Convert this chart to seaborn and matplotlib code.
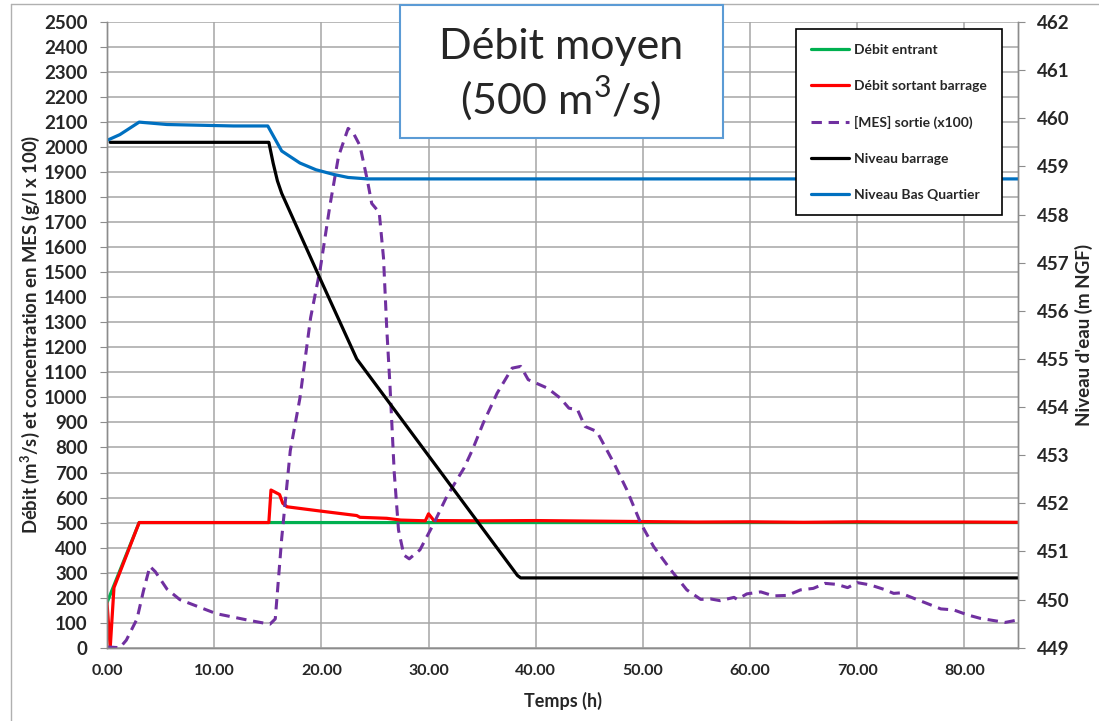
import matplotlib
matplotlib.use("Agg")
import matplotlib.pyplot as plt
import matplotlib.ticker as mticker
from matplotlib.lines import Line2D
from matplotlib.patches import Rectangle
import seaborn as sns

# Débit entrant (m3/s)
t_entrant = [0, 3.0, 85]
q_entrant = [180, 500, 500]

# Débit sortant barrage (m3/s)
t_sortant = [0, 0.3, 0.65, 3.0, 15.1, 15.3, 16.1, 16.4, 16.8, 19.9, 23.3, 23.6, 26.1, 27.4,
             29.7, 30.0, 30.5, 35, 40, 45, 50, 55, 60, 65, 70, 75, 80, 85]
q_sortant = [180, 0, 240, 500, 500, 630, 612, 577, 563, 546, 528, 521, 517, 510,
             507, 535, 508, 507, 508, 506, 504, 502, 503, 501, 503, 502, 502, 501]

# [MES] sortie (x100)
t_mes = [0, 1.2, 1.8, 2.8, 3.4, 4.0, 4.5, 5.6, 6.8, 10.2, 13.4, 15.2, 15.7, 16.3, 17.1,
         18.0, 19.0, 19.9, 20.8, 21.6, 22.5, 23.0, 23.6, 24.3, 24.7, 25.4, 25.8, 26.1,
         26.4, 26.8, 27.2, 27.7, 28.2, 29.2, 30.5, 31.7, 33.3, 34.1, 35.1, 36.4, 37.8,
         38.6, 39.3, 41.1, 42.3, 43.1, 43.9, 44.6, 45.7, 47.3, 48.5, 49.8, 51.0, 52.6,
         54.1, 55.4, 56.3, 57.2, 58.5, 58.8, 59.7, 61.0, 62.2, 63.5, 64.7, 65.9, 67.0,
         68.1, 69.1, 70.0, 71.2, 72.5, 73.4, 74.0, 75.3, 76.5, 77.8, 79.0, 80.3, 81.5,
         82.8, 83.8, 85.0]
mes = [3, 0, 30, 115, 227, 325, 304, 234, 192, 136, 108, 94, 115, 437, 787,
       997, 1319, 1515, 1767, 1963, 2075, 2055, 2006, 1866, 1775, 1739, 1557, 1277,
       1050, 700, 470, 370, 355, 391, 497, 604, 717, 791, 897, 1017, 1117,
       1124, 1071, 1037, 997, 957, 951, 884, 864, 737, 631, 497, 404, 311,
       231, 193, 195, 188, 201, 193, 215, 223, 207, 209, 231, 237, 257,
       253, 240, 260, 251, 233, 217, 219, 197, 177, 155, 151, 131, 117,
       108, 101, 111]

# Niveau barrage (m NGF)
t_barrage = [0.3, 15.1, 15.5, 15.9, 16.3, 19.9, 23.3, 38.3, 38.6, 85]
niv_barrage = [459.5, 459.5, 459.07, 458.7, 458.44, 456.66, 455.0, 450.5, 450.45, 450.45]

# Niveau Bas Quartier (m NGF)
t_bas_quartier = [0, 1.2, 3.0, 5.6, 11.8, 15.0, 15.6, 16.3, 18.0, 19.5, 21.2, 22.5, 24.3, 85]
niv_bas_quartier = [459.54, 459.66, 459.92, 459.87, 459.84, 459.84, 459.6, 459.32, 459.07,
                    458.93, 458.83, 458.77, 458.74, 458.74]

GREEN = "#00b050"
RED = "#ff0000"
PURPLE = "#7030a0"
BLUE = "#0070c0"
GRID = "#a6a6a6"
AXIS = "#8c8c8c"

sns.set_style("white")
plt.rcParams['font.family'] = ['Lato', 'DejaVu Sans']
plt.rcParams['mathtext.fontset'] = 'custom'
plt.rcParams['mathtext.rm'] = 'Lato'
plt.rcParams['mathtext.bf'] = 'Lato:bold'

fig = plt.figure(figsize=(10.99, 7.21), dpi=100)
ax = fig.add_axes([107 / 1099, 73.3 / 721, 911 / 1099, 625.7 / 721])
ax2 = ax.twinx()

sns.lineplot(x=t_entrant, y=q_entrant, ax=ax, color=GREEN, linewidth=2.3, label="Débit entrant")
sns.lineplot(x=t_sortant, y=q_sortant, ax=ax, color=RED, linewidth=2.3, label="Débit sortant barrage")
sns.lineplot(x=t_mes, y=mes, ax=ax, color=PURPLE, linewidth=2.2, linestyle=(0, (3.4, 2.2)),
             label="[MES] sortie (x100)")
sns.lineplot(x=t_barrage, y=niv_barrage, ax=ax2, color="black", linewidth=2.3, label="Niveau barrage")
sns.lineplot(x=t_bas_quartier, y=niv_bas_quartier, ax=ax2, color=BLUE, linewidth=2.3,
             label="Niveau Bas Quartier")

ax.set_xlim(0, 85)
ax.set_ylim(0, 2500)
ax2.set_ylim(449, 462)
ax.set_yticks(range(0, 2600, 100))
ax2.set_yticks(range(449, 463))
ax.xaxis.set_major_locator(mticker.MultipleLocator(10))
ax.xaxis.set_minor_locator(mticker.MultipleLocator(2))
ax.xaxis.set_major_formatter(mticker.FormatStrFormatter("%.2f"))

ax.grid(True, which="major", color=GRID, linewidth=1.1)
ax.set_axisbelow(True)

for a in (ax, ax2):
    for s in a.spines.values():
        s.set_color(AXIS)
        s.set_linewidth(1.0)
    a.spines["top"].set_visible(False)

ax.tick_params(axis="y", direction="out", length=5, color=AXIS, pad=9, labelsize=13.5)
ax.tick_params(axis="x", which="both", direction="out", length=5, color=AXIS, pad=7, labelsize=11.5)
ax2.tick_params(axis="y", direction="out", length=5, color=AXIS, pad=9, labelsize=13.5)
for lab in ax.get_xticklabels() + ax.get_yticklabels() + ax2.get_yticklabels():
    lab.set_fontweight("bold")

ax.set_xlabel("Temps (h)", fontsize=13, fontweight="bold")
ax.set_ylabel(r"Débit (m$\mathbf{^3}$/s) et concentration en MES (g/l x 100)", fontsize=13.3,
              fontweight="bold")
ax2.set_ylabel("Niveau d'eau (m NGF)", fontsize=13.5, fontweight="bold")
ax.xaxis.set_label_coords(0.5, -0.07)
ax.yaxis.set_label_coords(-0.071, 0.5)
ax2.yaxis.set_label_coords(1.062, 0.5)

h1, l1 = ax.get_legend_handles_labels()
h2, l2 = ax2.get_legend_handles_labels()
ax.get_legend().remove()
ax2.get_legend().remove()
leg = fig.legend(h1 + h2, l1 + l2, loc="upper left", bbox_to_anchor=(796 / 1099, 1 - 29 / 721),
                 frameon=True, fancybox=False, edgecolor="black", framealpha=1,
                 prop={"weight": "bold", "size": 10}, labelspacing=1.73, handlelength=2.8,
                 handletextpad=0.35, borderpad=1.05, borderaxespad=0)
leg.get_frame().set_linewidth(1.2)

# encadré du titre
fig.add_artist(Rectangle((400 / 1099, 1 - 138 / 721), 323 / 1099, 133 / 721,
                         transform=fig.transFigure, facecolor="white", edgecolor="#5b9bd5",
                         linewidth=1.5, zorder=5))
fig.text(561 / 1099, 1 - 75 / 721, "Débit moyen\n(500 m$^3$/s)", ha="center", va="center",
         fontsize=31, linespacing=1.2, zorder=6)

# bord de la zone graphique
fig.add_artist(Line2D([11 / 1099, 11 / 1099], [0, 1 - 4 / 721], transform=fig.transFigure,
                      color="#b0b0b0", linewidth=1))
fig.add_artist(Line2D([11 / 1099, 1], [1 - 4 / 721, 1 - 4 / 721], transform=fig.transFigure,
                      color="#b0b0b0", linewidth=1))

fig.savefig("out.png", dpi=100)
